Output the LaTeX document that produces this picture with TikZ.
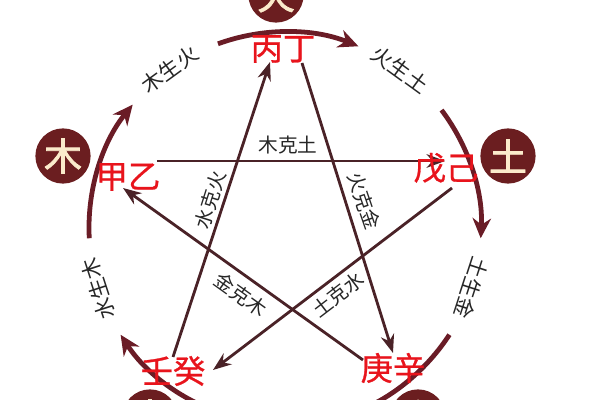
\documentclass[tikz,border=0pt]{standalone}
\usepackage{fontspec}
\usepackage{tikz}
\usetikzlibrary{arrows.meta}
\newfontfamily\cjk{Noto Sans CJK SC}
\newfontfamily\cjkb[FakeBold=2]{Noto Sans CJK SC}
\newfontfamily\cjkm[FakeBold=0.8]{Noto Sans CJK SC}
\definecolor{elemfill}{HTML}{6B1E20}
\definecolor{elemtext}{HTML}{FBEBCB}
\definecolor{arcred}{HTML}{6A1C26}
\definecolor{lineb}{HTML}{4A2227}
\definecolor{stemred}{HTML}{E8141C}
\definecolor{labg}{HTML}{262626}

\begin{document}
\begin{tikzpicture}[x=0.025cm,y=0.025cm]%
  \tikzstyle{elem}=[circle,fill=elemfill,text=elemtext,inner sep=0,minimum size=1.38cm,font=\cjkb\fontsize{27}{27}\selectfont]
  \tikzstyle{stemn}=[text=stemred,inner sep=0,font=\cjkm\fontsize{23}{23}\selectfont]
  \tikzstyle{genn}=[text=labg,inner sep=0,font=\cjk\fontsize{15}{15}\selectfont]
  \tikzstyle{ken}=[text=labg,inner sep=0,font=\cjk\fontsize{14}{14}\selectfont]
  \tikzstyle{genarr}=[draw=arcred,line width=3.4pt,-{Stealth[length=5mm,width=4.6mm]}]
  \tikzstyle{kearr}=[draw=lineb,line width=2pt,-{Stealth[length=4.6mm,width=3.4mm]}]
  \useasboundingbox (-285,-172) rectangle (315,228);
  \clip (-285,-172) rectangle (315,228);
  \coordinate (g1) at (183:196);
  \coordinate (g2) at (110:196);
  \coordinate (g3) at (37:196);
  \coordinate (g4) at (327:196);
  \coordinate (g5) at (255:196);
  \draw[genarr] (g1) arc[start angle=183,end angle=141,radius=196];
  \draw[genarr] (g2) arc[start angle=110,end angle=68,radius=196];
  \draw[genarr] (g3) arc[start angle=37,end angle=-3,radius=196];
  \draw[genarr] (g4) arc[start angle=327,end angle=285,radius=196];
  \draw[genarr] (g5) arc[start angle=255,end angle=213,radius=196];
  \coordinate (a1) at (-128,67);  \coordinate (b1) at (160,67);
  \coordinate (a2) at (167,40);   \coordinate (b2) at (-72,-142);
  \coordinate (a3) at (-112,-129); \coordinate (b3) at (-15,166);
  \coordinate (a4) at (17,165);   \coordinate (b4) at (108,-125);
  \coordinate (a5) at (78,-132);  \coordinate (b5) at (-162,40);
  \draw[kearr] (a1) -- (b1);
  \draw[kearr] (a2) -- (b2);
  \draw[kearr] (a3) -- (b3);
  \draw[kearr] (a4) -- (b4);
  \draw[kearr] (a5) -- (b5);
  \node(huo)[elem] at (-9,233) {火};
  \node(mu)[elem] at (-222,72) {木};
  \node(tu)[elem] at (223,72) {土};
  \node(shui)[elem] at (-135,-189) {水};
  \node(jin)[elem] at (133,-189) {金};
  \node(bd)[stemn] at (-2,179) {丙丁};
  \node(jy)[stemn] at (-157,51) {甲乙};
  \node(wj)[stemn] at (161,60) {戊己};
  \node(rg)[stemn] at (-112,-143) {壬癸};
  \node(gx)[stemn] at (108,-140) {庚辛};
  \node(s1)[genn,rotate=36] at (126:196) {木生火};
  \node(s2)[genn,rotate=-36] at (54:196) {火生土};
  \node(s3)[genn,rotate=-108] at (-18:196) {土生金};
  \node(s4)[genn,rotate=108] at (198:196) {水生木};
  \node(k1)[ken] at (3,83) {木克土};
  \node(k2)[ken,rotate=72.5] at (-75,28) {水克火};
  \node(k3)[ken,rotate=-71] at (79,27) {火克金};
  \node(k4)[ken,rotate=37.5] at (53,-67) {土克水};
  \node(k5)[ken,rotate=-35.6] at (-44,-67) {金克木};
\end{tikzpicture}
\end{document}
